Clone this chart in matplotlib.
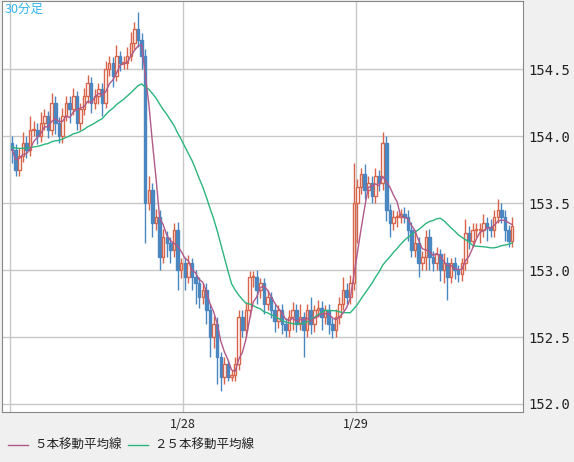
import numpy as np
import pandas as pd
import matplotlib
matplotlib.use("Agg")
import matplotlib.pyplot as plt
from matplotlib.lines import Line2D

plt.rcParams['font.family'] = ['Noto Sans CJK JP', 'DejaVu Sans']

closes = [153.9,153.75,153.85,153.95,153.9,154.05,154.05,154.0,154.1,154.15,154.05,
 154.25,154.1,154.0,154.15,154.25,154.2,154.3,154.1,154.2,154.3,
 154.4,154.25,154.3,154.35,154.25,154.5,154.55,154.45,154.6,154.55,
 154.55,154.6,154.7,154.8,154.72,154.6,153.5,153.6,153.35,153.4,153.1,153.25,153.2,
 153.15,153.3,153.0,153.05,152.95,153.05,152.95,152.9,152.8,152.85,152.7,152.5,
 152.6,152.35,152.2,152.3,152.2,152.22,152.3,152.65,152.55,152.7,152.95,152.95,
 152.85,152.9,152.75,152.8,152.7,152.62,152.7,152.6,152.55,152.65,152.7,152.6,
 152.65,152.55,152.7,152.6,152.7,152.72,152.65,152.7,152.6,152.55,152.65,152.75,
 152.85,152.8,152.9,153.5,153.62,153.72,153.6,153.65,153.55,153.7,153.65,153.95,
 153.45,153.35,153.4,153.4,153.42,153.4,153.3,153.15,153.2,153.05,153.1,153.25,
 153.1,153.05,153.12,153.0,153.05,152.95,153.05,153.0,152.97,153.05,153.28,153.22,
 153.3,153.3,153.3,153.35,153.32,153.3,153.4,153.45,153.4,153.3,153.22,153.33]
first_open = 153.95
upper_wick = [0.05,0.04,0.06,0.08,0.05,0.1,0.06,0.05,0.08,0.05,0.04,
 0.07,0.05,0.04,0.06,0.05,0.05,0.06,0.04,0.05,0.06,
 0.06,0.04,0.05,0.05,0.05,0.06,0.05,0.04,0.08,0.04,
 0.05,0.07,0.08,0.05,0.13,0.05,0.05,0.1,0.05,0.06,0.05,0.06,0.04,
 0.05,0.05,0.06,0.04,0.05,0.06,0.04,0.05,0.05,0.05,0.05,0.05,
 0.06,0.05,0.04,0.05,0.03,0.03,0.05,0.05,0.05,0.06,0.04,0.04,
 0.05,0.04,0.04,0.05,0.04,0.05,0.04,0.05,0.04,0.05,0.06,0.05,
 0.1,0.04,0.05,0.1,0.04,0.06,0.05,0.04,0.05,0.04,0.06,0.05,
 0.1,0.05,0.06,0.3,0.06,0.04,0.07,0.05,0.05,0.06,0.05,0.08,
 0.05,0.04,0.05,0.04,0.04,0.05,0.05,0.06,0.1,0.05,0.04,0.05,
 0.06,0.04,0.05,0.04,0.08,0.05,0.04,0.05,0.04,0.04,0.1,0.05,
 0.05,0.05,0.05,0.07,0.05,0.06,0.05,0.08,0.05,0.05,0.04,0.07]
lower_wick = [0.1,0.05,0.05,0.04,0.06,0.05,0.05,0.06,0.04,0.05,0.06,
 0.04,0.08,0.05,0.05,0.04,0.1,0.04,0.05,0.05,0.04,
 0.05,0.08,0.05,0.06,0.1,0.04,0.05,0.08,0.04,0.06,
 0.05,0.05,0.04,0.05,0.05,0.1,0.3,0.05,0.1,0.05,0.1,0.05,0.1,
 0.1,0.05,0.15,0.06,0.1,0.05,0.1,0.15,0.08,0.05,0.1,0.15,
 0.08,0.2,0.1,0.05,0.03,0.03,0.05,0.05,0.05,0.05,0.05,0.08,
 0.1,0.06,0.08,0.05,0.06,0.08,0.05,0.08,0.05,0.05,0.1,0.06,
 0.05,0.2,0.05,0.08,0.06,0.05,0.1,0.05,0.08,0.06,0.05,0.05,
 0.05,0.05,0.05,0.05,0.3,0.05,0.07,0.06,0.05,0.05,0.06,0.05,
 0.08,0.1,0.05,0.08,0.05,0.05,0.08,0.05,0.05,0.1,0.05,0.1,
 0.1,0.06,0.05,0.08,0.1,0.17,0.05,0.07,0.06,0.05,0.05,0.06,
 0.05,0.05,0.1,0.05,0.1,0.05,0.05,0.05,0.05,0.08,0.05,0.05]

tick_pos = [47.5, 95.5]
tick_labels = ['1/28', '1/29']
y_ticks = [152.0, 152.5, 153.0, 153.5, 154.0, 154.5]

c = np.array(closes)
o = np.concatenate([[first_open], c[:-1]])
hi = np.maximum(o, c) + np.array(upper_wick)
lo = np.minimum(o, c) - np.array(lower_wick)
n = len(c)
idx = np.arange(n)
ma5 = pd.Series(c).rolling(5, min_periods=1).mean()
ma25 = pd.Series(np.concatenate([[153.92]*20, c])).rolling(25, min_periods=1).mean().values[20:]

W, H = 574, 462
fig = plt.figure(figsize=(W/100, H/100), dpi=100, facecolor='#f0f0f0')
ax = fig.add_axes([2/W, 1 - 412/H, 521/W, 411/H])
ax.set_facecolor('white')

up_col = '#d8654a'
dn_col = '#4a86bf'
for i in idx:
    up = c[i] >= o[i]
    col = up_col if up else dn_col
    bot, top = min(o[i], c[i]), max(o[i], c[i])
    ax.vlines(i, lo[i], bot, color=col, lw=1, zorder=3)
    ax.vlines(i, top, hi[i], color=col, lw=1, zorder=3)
    h = max(top - bot, 0.005)
    ax.add_patch(plt.Rectangle((i - 0.35, bot), 0.7, h, facecolor='white' if up else col,
                               edgecolor=col, lw=1, zorder=3))
ax.plot(idx, ma25, color='#2bb57c', lw=1, zorder=4)
ax.plot(idx, ma5, color='#b0598a', lw=1, zorder=4)

ax.set_xlim(-2.8, 142)
ax.set_ylim(151.94, 155.01)
ax.set_yticks(y_ticks)
ax.set_yticklabels([f'{v:.1f}' for v in y_ticks], family='DejaVu Sans Mono', fontsize=10)
ax.yaxis.tick_right()
ax.set_xticks([-0.5] + tick_pos)
ax.set_xticklabels([''] + tick_labels, fontsize=9)
ax.tick_params(length=0, pad=4, colors='#222222')
ax.grid(True, color='#c8c8c8', lw=1)
ax.set_axisbelow(True)
for s in ax.spines.values():
    s.set_color('#888888')

ax.text(0.005, 0.995, '30分足', transform=ax.transAxes, ha='left', va='top', color='#33b5ee', fontsize=9)

for x0, col, lab in [(8, '#b0598a', '５本移動平均線'), (128, '#2bb57c', '２５本移動平均線')]:
    fig.add_artist(Line2D([x0/W, (x0+20)/W], [1-445/H, 1-445/H], color=col, lw=1))
    fig.text((x0+26)/W, 1-445/H, lab, va='center', fontsize=9, color='#222222')

fig.savefig('out.png', dpi=100, facecolor=fig.get_facecolor())
